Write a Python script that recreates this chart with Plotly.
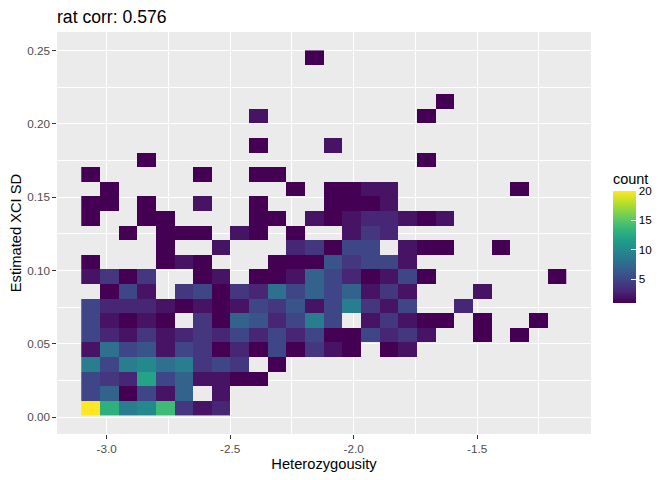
import plotly.graph_objects as go

# bin centres (geom_bin2d style grid)
het_bins = [-3.0646, -2.9890, -2.9135, -2.8379, -2.7623, -2.6868, -2.6112, -2.5356,
            -2.4600, -2.3845, -2.3089, -2.2333, -2.1578, -2.0822, -2.0066, -1.9311,
            -1.8555, -1.7799, -1.7043, -1.6288, -1.5532, -1.4776, -1.4021, -1.3265,
            -1.2509, -1.1754]
xci_bins = [0.0061, 0.0160, 0.0260, 0.0360, 0.0459, 0.0559, 0.0658, 0.0758, 0.0858,
            0.0957, 0.1057, 0.1157, 0.1256, 0.1356, 0.1455, 0.1555, 0.1655, 0.1754,
            0.1854, 0.1953, 0.2053, 0.2152, 0.2252, 0.2352, 0.2451]

# counts per bin, one row per xci bin (bottom -> top), 0 = empty bin
counts = [
    [20, 13, 9, 10, 14, 4, 2, 3, 0, 0, 0, 0, 0, 0, 0, 0, 0, 0, 0, 0, 0, 0, 0, 0, 0, 0],
    [5, 7, 1, 5, 2, 7, 0, 2, 0, 0, 0, 0, 0, 0, 0, 0, 0, 0, 0, 0, 0, 0, 0, 0, 0, 0],
    [5, 4, 3, 12, 5, 7, 2, 2, 1, 1, 0, 0, 0, 0, 0, 0, 0, 0, 0, 0, 0, 0, 0, 0, 0, 0],
    [9, 5, 9, 10, 8, 9, 4, 5, 4, 0, 1, 0, 0, 0, 0, 0, 0, 0, 0, 0, 0, 0, 0, 0, 0, 0],
    [2, 8, 5, 6, 2, 5, 4, 1, 3, 1, 5, 1, 4, 2, 1, 0, 1, 2, 0, 0, 0, 0, 0, 0, 0, 0],
    [5, 3, 2, 4, 2, 3, 4, 3, 5, 3, 5, 3, 5, 1, 1, 5, 3, 4, 2, 0, 0, 1, 0, 1, 0, 0],
    [5, 2, 1, 2, 1, 0, 4, 1, 7, 6, 3, 5, 9, 5, 0, 2, 4, 2, 1, 1, 0, 1, 0, 0, 1, 0],
    [5, 3, 3, 3, 2, 1, 2, 1, 2, 5, 4, 6, 2, 5, 9, 4, 2, 5, 0, 0, 3, 0, 0, 0, 0, 0],
    [0, 1, 5, 2, 0, 4, 5, 1, 4, 3, 8, 5, 7, 5, 7, 2, 4, 2, 0, 0, 0, 2, 0, 0, 0, 0],
    [2, 4, 1, 4, 0, 0, 1, 2, 0, 1, 1, 2, 7, 5, 3, 1, 2, 5, 1, 0, 0, 0, 0, 0, 0, 1],
    [1, 0, 0, 0, 1, 2, 1, 0, 0, 0, 1, 1, 1, 6, 4, 5, 5, 2, 0, 0, 0, 0, 0, 0, 0, 0],
    [0, 0, 0, 0, 1, 0, 0, 2, 0, 0, 0, 3, 4, 1, 5, 5, 0, 2, 1, 1, 0, 0, 1, 0, 0, 0],
    [0, 0, 1, 0, 1, 1, 1, 0, 2, 1, 0, 1, 0, 0, 2, 4, 3, 0, 0, 0, 0, 0, 0, 0, 0, 0],
    [1, 0, 0, 1, 1, 0, 0, 0, 0, 1, 1, 0, 2, 1, 2, 3, 3, 2, 1, 2, 0, 0, 0, 0, 0, 0],
    [1, 1, 0, 1, 0, 0, 2, 0, 0, 1, 0, 0, 0, 1, 1, 1, 2, 0, 0, 0, 0, 0, 0, 0, 0, 0],
    [0, 1, 0, 0, 0, 0, 0, 0, 0, 0, 0, 1, 0, 1, 1, 2, 2, 0, 0, 0, 0, 0, 0, 1, 0, 0],
    [1, 0, 0, 0, 0, 0, 1, 0, 0, 1, 1, 0, 0, 0, 0, 0, 0, 0, 0, 0, 0, 0, 0, 0, 0, 0],
    [0, 0, 0, 1, 0, 0, 0, 0, 0, 0, 0, 0, 0, 0, 0, 0, 0, 0, 1, 0, 0, 0, 0, 0, 0, 0],
    [0, 0, 0, 0, 0, 0, 0, 0, 0, 1, 0, 0, 0, 2, 0, 0, 0, 0, 0, 0, 0, 0, 0, 0, 0, 0],
    [0, 0, 0, 0, 0, 0, 0, 0, 0, 0, 0, 0, 0, 0, 0, 0, 0, 0, 0, 0, 0, 0, 0, 0, 0, 0],
    [0, 0, 0, 0, 0, 0, 0, 0, 0, 2, 0, 0, 0, 0, 0, 0, 0, 0, 1, 0, 0, 0, 0, 0, 0, 0],
    [0, 0, 0, 0, 0, 0, 0, 0, 0, 0, 0, 0, 0, 0, 0, 0, 0, 0, 0, 1, 0, 0, 0, 0, 0, 0],
    [0, 0, 0, 0, 0, 0, 0, 0, 0, 0, 0, 0, 0, 0, 0, 0, 0, 0, 0, 0, 0, 0, 0, 0, 0, 0],
    [0, 0, 0, 0, 0, 0, 0, 0, 0, 0, 0, 0, 0, 0, 0, 0, 0, 0, 0, 0, 0, 0, 0, 0, 0, 0],
    [0, 0, 0, 0, 0, 0, 0, 0, 0, 0, 0, 0, 1, 0, 0, 0, 0, 0, 0, 0, 0, 0, 0, 0, 0, 0],
]

x_ticks = [-3.0, -2.5, -2.0, -1.5]
x_labels = ["-3.0", "-2.5", "-2.0", "-1.5"]
x_minor = [-2.75, -2.25, -1.75, -1.25]
y_ticks = [0.0, 0.05, 0.10, 0.15, 0.20, 0.25]
y_labels = ["0.00", "0.05", "0.10", "0.15", "0.20", "0.25"]
y_minor = [0.025, 0.075, 0.125, 0.175, 0.225]
cbar_ticks = [5, 10, 15, 20]

FONT = "Liberation Sans, Arial, sans-serif"

# page body has an 8px margin, so the figure is made 8px smaller and shifted
W, H = 664, 472

z = [[c if c else None for c in row] for row in counts]

fig = go.Figure(
    go.Heatmap(
        x=het_bins,
        y=xci_bins,
        z=z,
        colorscale="Viridis",
        zmin=1,
        zmax=20,
        hoverongaps=False,
        colorbar=dict(
            title=dict(text="count", side="top", font=dict(size=14.5, color="black")),
            thickness=23,
            len=133,
            lenmode="pixels",
            x=1.041,
            xanchor="left",
            y=0.492,
            yanchor="middle",
            xpad=0,
            ypad=0,
            outlinewidth=0,
            tickvals=cbar_ticks,
            ticks="inside",
            ticklen=4.5,
            tickcolor="white",
            tickwidth=1,
            tickfont=dict(size=11.7, color="black"),
        ),
    )
)

axis_common = dict(
    showline=False,
    zeroline=False,
    gridcolor="white",
    gridwidth=1.3,
    ticks="outside",
    ticklen=3.7,
    tickwidth=1.07,
    tickcolor="#333333",
    tickfont=dict(size=11.7, color="#4D4D4D"),
    automargin=False,
)

fig.update_layout(
    width=W,
    height=H,
    margin=dict(l=49, r=81, t=24, b=46),
    paper_bgcolor="white",
    plot_bgcolor="#EBEBEB",
    font=dict(family=FONT, color="black"),
    title=dict(
        text="rat corr: 0.576",
        font=dict(size=17.6, color="black"),
        x=0,
        xref="paper",
        xanchor="left",
        y=1 - 3 / H,
        yref="container",
        yanchor="top",
    ),
    xaxis=dict(
        range=[-3.2006, -1.0393],
        tickmode="array",
        tickvals=x_ticks,
        ticktext=x_labels,
        minor=dict(tickmode="array", tickvals=x_minor, showgrid=True,
                   gridcolor="white", gridwidth=0.7, ticks=""),
        title=dict(text="Heterozygousity", font=dict(size=14.7), standoff=4),
        **axis_common,
    ),
    yaxis=dict(
        range=[-0.0114, 0.2626],
        tickmode="array",
        tickvals=y_ticks,
        ticktext=y_labels,
        minor=dict(tickmode="array", tickvals=y_minor, showgrid=True,
                   gridcolor="white", gridwidth=0.7, ticks=""),
        title=dict(text="Estimated XCI SD", font=dict(size=14.7), standoff=6),
        **axis_common,
    ),
)

fig.write_html("out.html")
